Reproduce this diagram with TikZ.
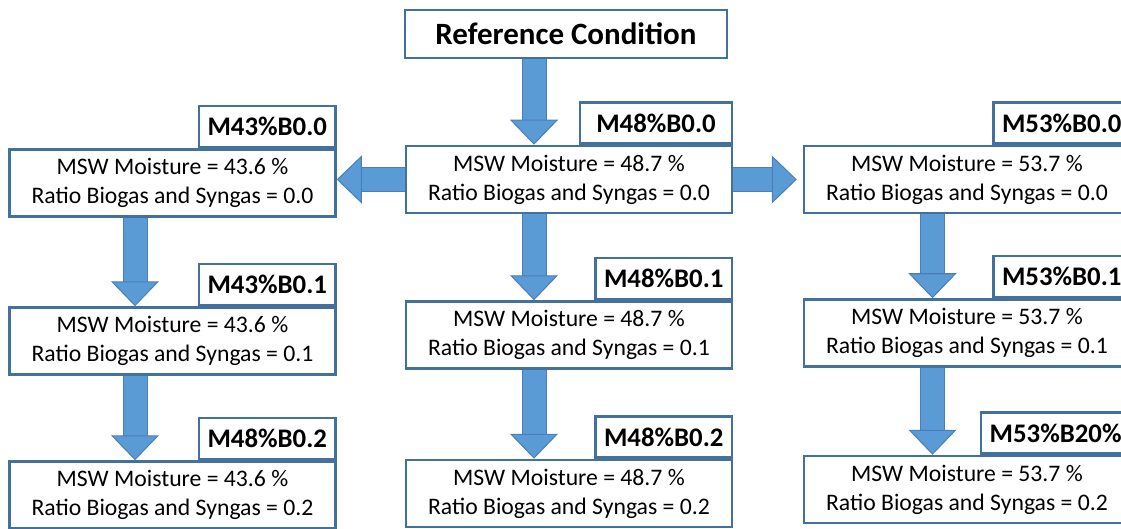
\documentclass[tikz,border=0pt]{standalone}
\usepackage{fontspec}
\setmainfont{Carlito}
\usetikzlibrary{positioning,arrows.meta,backgrounds}

\definecolor{boxblue}{HTML}{41719C}
\definecolor{arrowblue}{HTML}{5B9BD5}
\definecolor{arrowedge}{HTML}{4A7EBB}

\tikzset{
  refbox/.style={draw=boxblue, line width=2.5pt, fill=white, minimum width=322pt,
    minimum height=48pt, inner sep=0pt, font=\fontsize{31}{34}\bfseries\selectfont},
  casebox/.style={draw=boxblue, line width=2.5pt, fill=white, minimum width=326pt,
    minimum height=67pt, inner sep=0pt, align=center, font=\fontsize{23.7}{29}\selectfont},
  tag/.style={draw=boxblue, line width=2.5pt, fill=white, minimum height=41pt,
    inner xsep=8.5pt, inner ysep=0pt, anchor=south east, font=\fontsize{26.8}{30}\bfseries\selectfont},
  bigarrow/.style={draw=arrowedge, line width=1pt, double=arrowblue, double distance=23pt,
    -{Triangle[length=25pt, width=48pt, color=arrowedge, fill=arrowblue, line width=1pt]}}
}

\begin{document}
\begin{tikzpicture}[x=1pt, y=-1pt]
\useasboundingbox (0,0) rectangle (1121,529);

\def\xl{172.5}
\def\xc{569}
\def\xr{967}

% arrow columns
\coordinate (al) at (135, 0);
\coordinate (ac) at (534, 0);
\coordinate (ar) at (932.5, 0);

\node[refbox] (ref) at (566, 34) {Reference Condition};

% middle column
\node[casebox] (c0) at (\xc, 179.5) {MSW Moisture = 48.7 \%\\Ratio Biogas and Syngas = 0.0};
\node[casebox] (c1) at (\xc, 335) {MSW Moisture = 48.7 \%\\Ratio Biogas and Syngas = 0.1};
\node[casebox] (c2) at (\xc, 493.5) {MSW Moisture = 48.7 \%\\Ratio Biogas and Syngas = 0.2};
\node[tag, minimum width=152pt] (c0tag) at (c0.north east) {M48\%B0.0};
\node[tag] (c1tag) at (c1.north east) {M48\%B0.1};
\node[tag] (c2tag) at (c2.north east) {M48\%B0.2};

% left column
\node[casebox] (l0) at (\xl, 183) {MSW Moisture = 43.6 \%\\Ratio Biogas and Syngas = 0.0};
\node[casebox] (l1) at (\xl, 341) {MSW Moisture = 43.6 \%\\Ratio Biogas and Syngas = 0.1};
\node[casebox] (l2) at (\xl, 495) {MSW Moisture = 43.6 \%\\Ratio Biogas and Syngas = 0.2};
\node[tag] (l0tag) at (l0.north east) {M43\%B0.0};
\node[tag] (l1tag) at (l1.north east) {M43\%B0.1};
\node[tag] (l2tag) at (l2.north east) {M48\%B0.2};

% right column
\node[casebox] (r0) at (\xr, 179.5) {MSW Moisture = 53.7 \%\\Ratio Biogas and Syngas = 0.0};
\node[casebox] (r1) at (\xr, 333) {MSW Moisture = 53.7 \%\\Ratio Biogas and Syngas = 0.1};
\node[casebox] (r2) at (\xr, 489.5) {MSW Moisture = 53.7 \%\\Ratio Biogas and Syngas = 0.2};
\node[tag] (r0tag) at (r0.north east) {M53\%B0.0};
\node[tag] (r1tag) at (r1.north east) {M53\%B0.1};
\node[tag] (r2tag) at (r2.north east) {M53\%B20\%};

\begin{scope}[on background layer]
\draw[bigarrow] (ac |- ref.south) -- (ac |- c0.north);
\draw[bigarrow] (c0.west) -- (c0.west -| l0.east);
\draw[bigarrow, shorten >=6pt] (c0.east) -- (c0.east -| r0.west);
\draw[bigarrow] (al |- l0.south) -- (al |- l1.north);
\draw[bigarrow] (al |- l1.south) -- (al |- l2.north);
\draw[bigarrow] (ac |- c0.south) -- (ac |- c1.north);
\draw[bigarrow] (ac |- c1.south) -- (ac |- c2.north);
\draw[bigarrow] (ar |- r0.south) -- (ar |- r1.north);
\draw[bigarrow] (ar |- r1.south) -- (ar |- r2.north);
\end{scope}
\end{tikzpicture}
\end{document}
